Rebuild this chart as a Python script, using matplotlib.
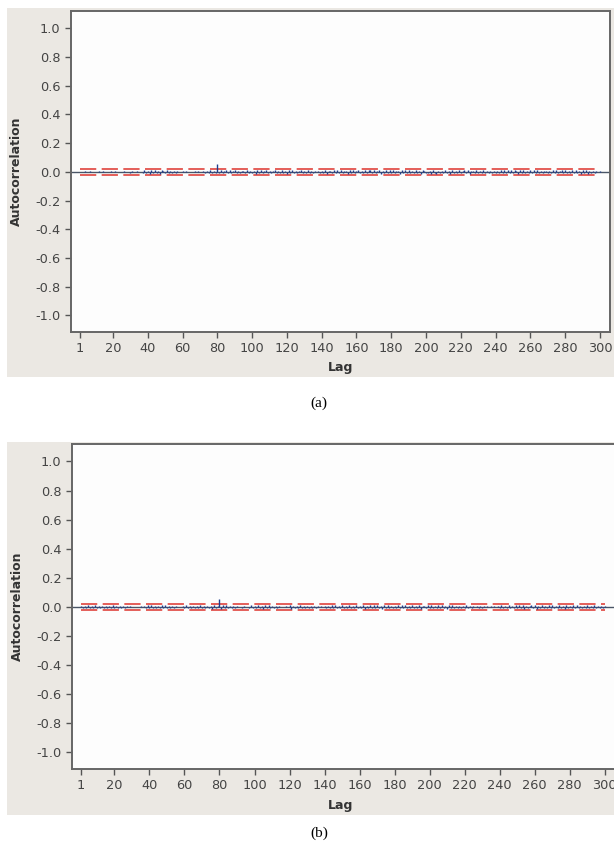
import numpy as np
import matplotlib.pyplot as plt
from matplotlib.patches import Rectangle

# autocorrelation estimates, in thousandths, lags 1..300
acf_a_milli = [
    2, -3, 1, 4, -2, 0, 3, -1, 2, -4, 1, 3, -2, 5, 0, -3, 2, -1, 6, -2,
    3, -4, 1, 2, -3, 4, -1, 0, 2, -5, 3, -2, 1, 4, -3, 2, -8, 12, -10, 9,
    -14, 10, -9, 13, -11, 8, -12, 10, 7, -9, 11, -8, 6, -10, 9, -7, 3, -2, 1, 4,
    -2, 3, -1, 2, -3, 1, 4, -2, 3, -1, 2, 6, -8, 9, -7, 10, -6, 8, -9, 55,
    -10, 12, -8, 9, 11, -7, 10, -9, 8, 12, -10, 9, -11, 8, 7, -9, 10, -8, 6, -5,
    9, -12, 10, -8, 11, -9, 7, 10, -11, 9, -7, 8, 12, -10, 9, -8, 11, -6, 8, -12,
    13, -9, 10, -8, 7, -11, 9, 10, -7, 8, -9, 11, -10, 6, -5, 4, -3, 5, -8, 9,
    -6, 10, -12, 8, 9, -10, 11, -7, 12, -9, 10, -11, 8, 9, -13, 10, -8, 11, -9, 7,
    12, -10, 9, -8, 13, -11, 10, 14, -9, 12, -10, 8, 15, -12, 9, -11, 10, -8, 12, -9,
    11, -10, 9, 8, -12, 10, -9, 11, -8, 13, -10, 9, -7, 11, -9, 8, -12, 10, 7, -9,
    -11, 8, -14, 10, -9, -12, 9, -10, 8, -11, 12, -9, 7, -13, 10, -8, 9, -11, 12, -10,
    8, 11, -9, 10, -12, 9, 8, -10, 11, -7, 9, -8, 10, -9, 6, -5, 4, -6, 8, -10,
    9, -11, 10, -8, 12, -9, 11, -10, 13, -9, 10, 8, -12, 11, -9, 14, -10, 9, -11, 10,
    -8, 12, -9, 11, -7, 8, -10, 9, 7, -6, 5, -8, 10, -9, 11, -10, 8, 12, -9, 10,
    -11, 9, -8, 12, -10, 11, -9, 8, -12, 10, -9, 11, -14, 8, -7, 9, -6, 5, -4, 3,
]
acf_b_milli = [
    6, -9, 8, -7, 10, -8, 9, -6, 11, -9, 7, -10, 8, -5, 9, -7, 6, -8, 10, -9,
    8, -10, 7, -6, 9, -8, 5, -4, 3, -2, 1, -3, 2, -4, 3, -2, 7, -9, 10, -8,
    12, -10, 9, -11, 8, -9, 10, -7, 11, -8, 9, -10, 6, -7, 5, -3, 2, -4, 8, -9,
    10, -8, 9, -11, 7, -10, 8, -9, 11, -7, 6, -8, 9, -10, 7, -12, 10, -8, 9, 55,
    -12, 10, -9, 11, -8, 9, -10, 7, -6, 5, -3, 2, -8, 4, -3, 2, -9, 10, -8, 9,
    -11, 10, -9, 8, -12, 10, -9, 11, -8, 9, -7, 8, -5, 4, -3, 2, -4, 3, -2, 10,
    -12, 9, -8, 7, -10, 11, -9, 8, -10, 9, -11, 8, -7, 9, -6, 5, -4, 3, -2, 8,
    -10, 9, -11, 12, -9, 10, -8, 9, -10, 11, -9, 8, -7, 10, -9, 8, -11, 12, -10, 9,
    -8, 10, -12, 9, -11, 10, -9, 14, -10, 11, -8, 9, -12, 10, -9, 11, -8, 9, -10, 8,
    -9, 10, -8, 11, -9, 12, -10, 9, -8, 10, -11, 9, -7, 10, -12, 9, 8, -11, 10, -9,
    11, -10, 9, -8, 12, -11, 10, -9, 8, -12, 11, -9, 10, -8, 9, -7, 8, -10, 9, -11,
    10, -8, 9, -6, 5, -4, 3, -9, 8, -7, 4, -3, 5, -4, 3, -2, 4, -3, 8, -9,
    10, -11, 9, -8, 12, -10, 9, -11, 13, -9, 10, -8, 11, -12, 9, -10, 8, 11, -9, 10,
    -12, 9, -10, 11, -8, 9, -11, 10, -9, 12, -10, 8, -9, 11, -10, 9, -12, 10, -8, 9,
    -11, 10, -9, 12, -10, 8, -11, 9, -10, 12, -9, 8, -11, 10, -9, 7, -8, 6, -5, 4,
]
lags = np.arange(1, 301)
limit = 0.022  # significance limits
xticks = [1] + list(range(20, 301, 20))
yticks = [-1.0, -0.8, -0.6, -0.4, -0.2, 0.0, 0.2, 0.4, 0.6, 0.8, 1.0]

W, H = 614, 848
fig = plt.figure(figsize=(W / 100, H / 100), dpi=100)
fig.patch.set_facecolor('white')

bg = '#ebe8e3'
# grey panels behind each plot
fig.patches.append(Rectangle((7 / W, 1 - 377 / H), 607 / W, 369 / H,
                             transform=fig.transFigure, facecolor=bg, edgecolor='none', zorder=-10))
fig.patches.append(Rectangle((7 / W, 1 - 815 / H), 607 / W, 373 / H,
                             transform=fig.transFigure, facecolor=bg, edgecolor='none', zorder=-10))

ax_a = fig.add_axes([71 / W, 1 - 332 / H, 539 / W, 321 / H])
ax_b = fig.add_axes([72 / W, 1 - 769 / H, 543 / W, 325 / H])


def draw(ax, vals):
    r = np.array(vals) / 1000.0
    ax.set_facecolor('#fdfdfd')
    ax.axhline(0, color='#4a5566', lw=1.0, zorder=2)
    ax.plot(lags, np.full(len(lags), limit), color='#e2524c', lw=1.3,
            ls=(0, (9, 3)), zorder=3)
    ax.plot(lags, np.full(len(lags), -limit), color='#e2524c', lw=1.3,
            ls=(0, (9, 3)), zorder=3)
    ax.vlines(lags, 0, r, color='#1f3d8f', lw=1.0, zorder=4)
    ax.set_xlim(-4.2, 305.8)
    ax.set_ylim(-1.115, 1.12)
    ax.set_xticks(xticks)
    ax.set_yticks(yticks)
    ax.set_yticklabels(['%.1f' % v for v in yticks])
    ax.tick_params(direction='out', length=4, width=1, color='#555555',
                   labelcolor='#444444', labelsize=9.3)
    for s in ax.spines.values():
        s.set_color('#666666')
        s.set_linewidth(1.4)
    ax.set_xlabel('Lag', fontsize=9, fontweight='bold', color='#333333')
    ax.set_ylabel('Autocorrelation', fontsize=9, fontweight='bold', color='#333333')


draw(ax_a, acf_a_milli)
draw(ax_b, acf_b_milli)
ax_a.xaxis.set_label_coords(0.5, -0.09)
ax_b.xaxis.set_label_coords(0.495, -0.092)
ax_a.yaxis.set_label_coords(-0.089, 0.5)
ax_b.yaxis.set_label_coords(-0.089, 0.5)

fig.text(319 / W, 1 - 403 / H, '(a)', ha='center', va='center',
         fontsize=11, family='Liberation Serif')
fig.text(319 / W, 1 - 833 / H, '(b)', ha='center', va='center',
         fontsize=11, family='Liberation Serif')

fig.savefig('out.png', dpi=100)
